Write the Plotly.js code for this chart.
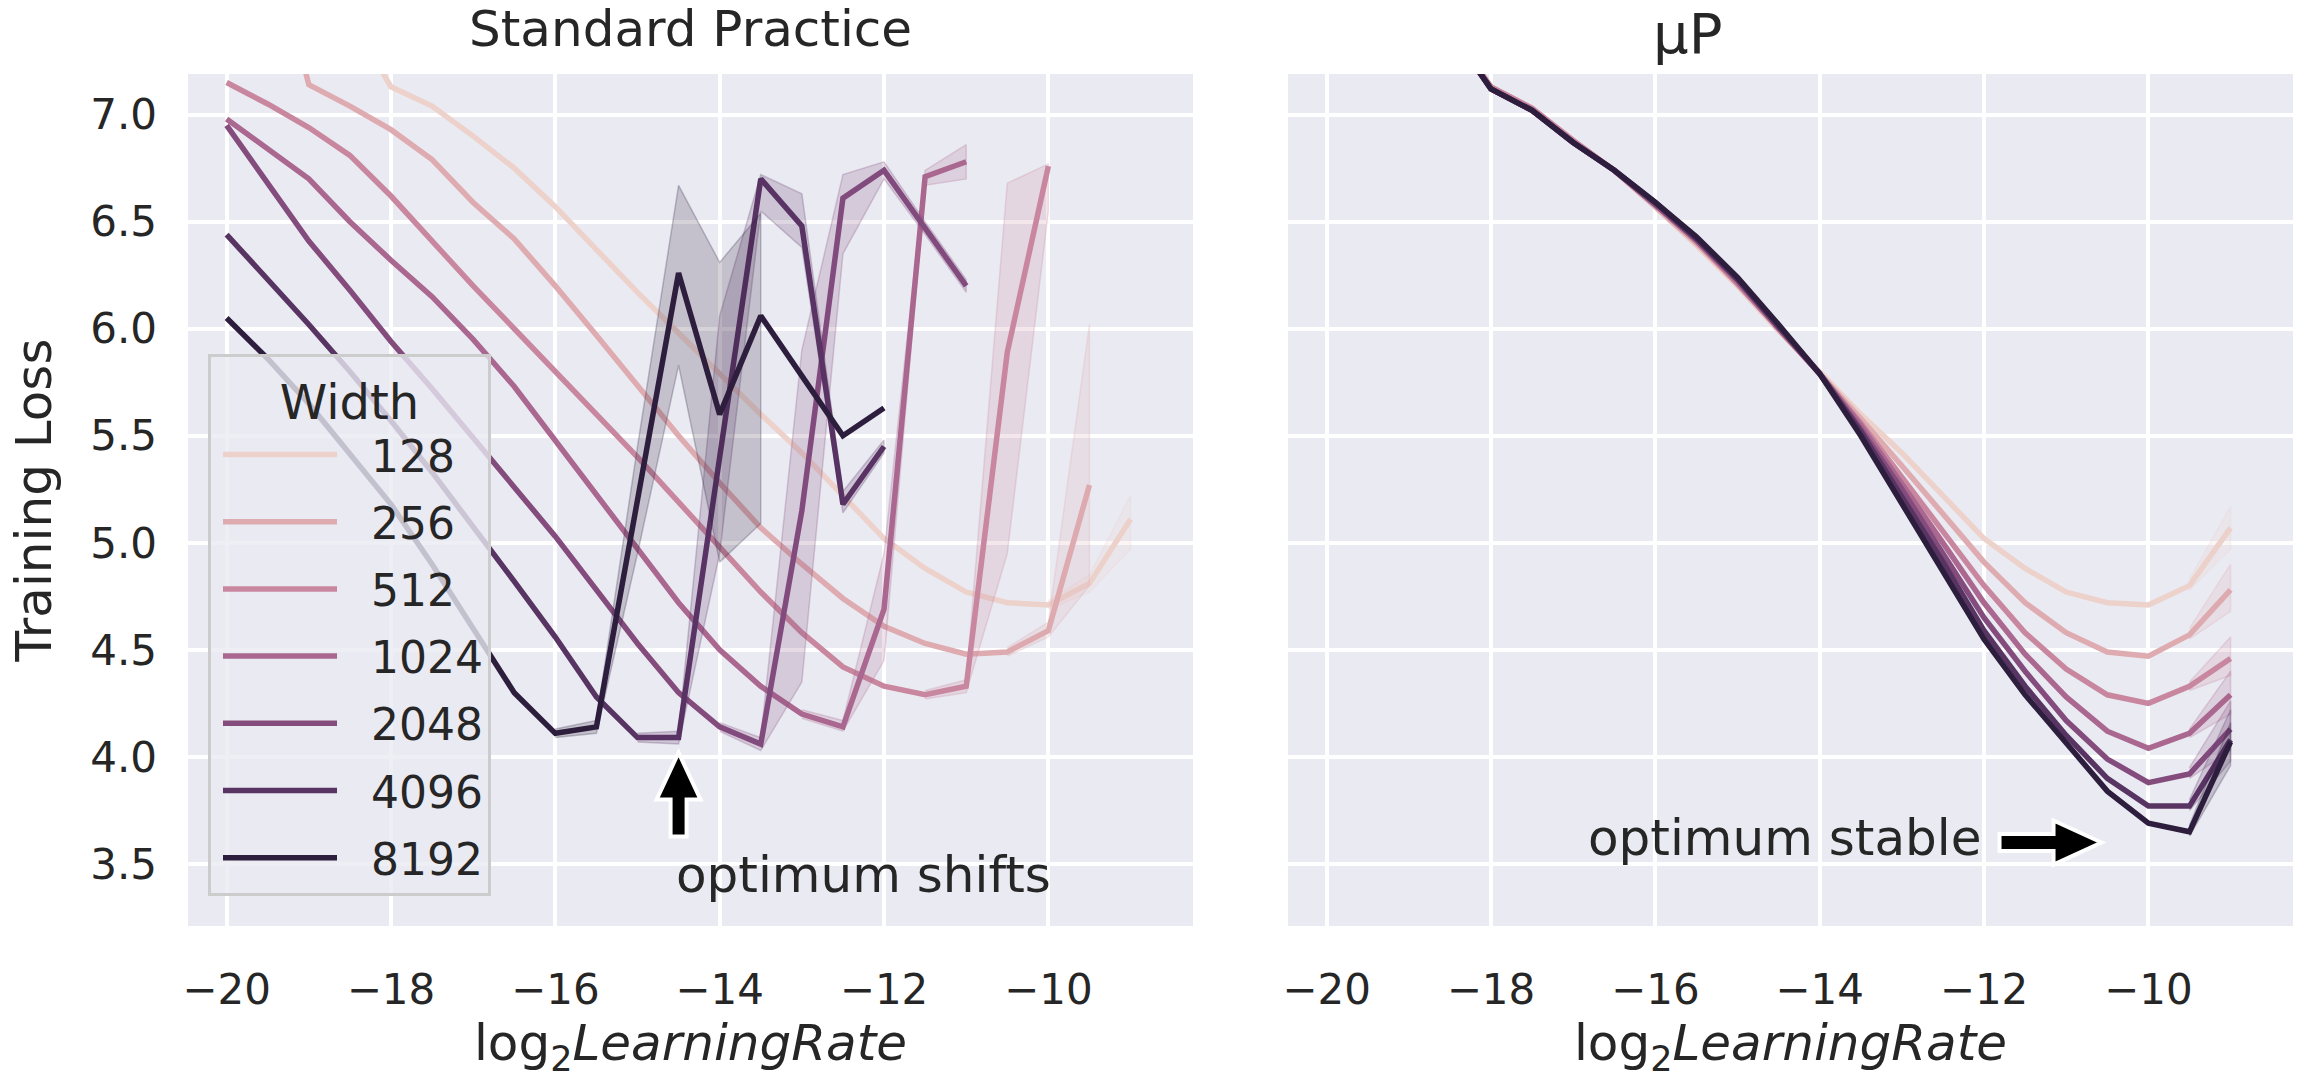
<!DOCTYPE html>
<html>
<head>
<meta charset="utf-8">
<script src="https://cdn.plot.ly/plotly-3.0.1.min.js"></script>
<style>
html,body{margin:0;padding:0;background:#ffffff;}
#chart{width:2305px;height:1088px;}
</style>
</head>
<body>
<div id="chart"></div>
<script>
// ---------------- DATA ----------------
const log2LR = [-20,-19.5,-19,-18.5,-18,-17.5,-17,-16.5,-16,-15.5,-15,-14.5,-14,-13.5,-13,-12.5,-12,-11.5,-11,-10.5,-10,-9.5,-9];
const widthLabels = ['128','256','512','1024','2048','4096','8192'];

// Standard Practice: mean training loss
const sp128  = [null,null,null,7.46,7.13,7.04,6.90,6.75,6.57,6.37,6.17,5.98,5.79,5.60,5.42,5.22,5.02,4.88,4.77,4.72,4.71,4.81,5.11];
const sp256  = [null,7.90,7.14,7.04,6.93,6.79,6.59,6.42,6.20,5.97,5.73,5.50,5.28,5.07,4.90,4.74,4.61,4.53,4.48,4.49,4.59,5.27,null];
const sp512  = [7.15,7.05,6.94,6.81,6.62,6.41,6.20,6.00,5.80,5.60,5.40,5.19,4.98,4.77,4.58,4.42,4.33,4.29,4.33,5.89,6.76,null,null];
const sp1024 = [6.98,6.84,6.70,6.50,6.32,6.15,5.95,5.73,5.48,5.22,4.97,4.72,4.50,4.33,4.20,4.14,4.69,6.71,6.78,null,null,null,null];
const sp2048 = [6.95,6.68,6.41,6.18,5.94,5.72,5.49,5.26,5.03,4.78,4.53,4.30,4.14,4.06,5.15,6.61,6.74,6.47,6.20,null,null,null,null];
const sp4096 = [6.44,6.23,6.02,5.80,5.57,5.33,5.08,4.82,4.56,4.28,4.09,4.09,5.40,6.70,6.48,5.18,5.45,null,null,null,null,null,null];
const sp8192 = [6.05,5.86,5.65,5.42,5.18,4.90,4.60,4.30,4.11,4.14,5.20,6.26,5.60,6.06,5.78,5.50,5.63,null,null,null,null,null,null];

// Standard Practice: confidence band (low / high), null where not visible
const sp128Lo  = [null,null,null,null,null,null,null,null,null,null,null,null,null,null,null,null,null,null,null,null,4.69,4.77,4.97];
const sp128Hi  = [null,null,null,null,null,null,null,null,null,null,null,null,null,null,null,null,null,null,null,null,4.73,4.85,5.22];
const sp256Lo  = [null,null,null,null,null,null,null,null,null,null,null,null,null,null,null,null,null,null,null,4.47,4.56,4.80,null];
const sp256Hi  = [null,null,null,null,null,null,null,null,null,null,null,null,null,null,null,null,null,null,null,4.51,4.63,6.02,null];
const sp512Lo  = [null,null,null,null,null,null,null,null,null,null,null,null,null,null,null,null,null,4.27,4.30,4.95,6.55,null,null];
const sp512Hi  = [null,null,null,null,null,null,null,null,null,null,null,null,null,null,null,null,null,4.31,4.36,6.68,6.77,null,null];
const sp1024Lo = [null,null,null,null,null,null,null,null,null,null,null,null,null,null,4.18,4.12,4.45,6.67,6.70,null,null,null,null];
const sp1024Hi = [null,null,null,null,null,null,null,null,null,null,null,null,null,null,4.22,4.17,4.95,6.74,6.86,null,null,null,null];
const sp2048Lo = [null,null,null,null,null,null,null,null,null,null,null,null,4.12,4.03,4.35,6.35,6.70,6.44,6.17,null,null,null,null];
const sp2048Hi = [null,null,null,null,null,null,null,null,null,null,null,null,4.16,4.09,5.90,6.72,6.78,6.50,6.23,null,null,null,null];
const sp4096Lo = [null,null,null,null,null,null,null,null,null,null,4.07,4.06,4.95,6.55,6.38,5.14,5.42,null,null,null,null,null,null];
const sp4096Hi = [null,null,null,null,null,null,null,null,null,null,4.11,4.12,6.06,6.72,6.63,5.24,5.48,null,null,null,null,null,null];
const sp8192Lo = [null,null,null,null,null,null,null,null,4.09,4.11,4.95,5.83,4.91,5.09,null,null,null,null,null,null,null,null,null];
const sp8192Hi = [null,null,null,null,null,null,null,null,4.13,4.17,5.45,6.67,6.31,6.54,null,null,null,null,null,null,null,null,null];

// muP: mean training loss
const mup128  = [null,null,null,7.40,7.13,7.03,6.88,6.74,6.57,6.39,6.20,5.99,5.80,5.60,5.42,5.22,5.02,4.88,4.77,4.72,4.71,4.80,5.07];
const mup256  = [null,null,null,7.40,7.13,7.03,6.88,6.74,6.57,6.40,6.21,6.00,5.79,5.58,5.36,5.13,4.91,4.72,4.58,4.49,4.47,4.57,4.78];
const mup512  = [null,null,null,7.40,7.13,7.03,6.88,6.74,6.58,6.41,6.21,6.00,5.79,5.56,5.31,5.05,4.80,4.58,4.41,4.29,4.25,4.33,4.46];
const mup1024 = [null,null,null,7.40,7.12,7.02,6.87,6.74,6.58,6.41,6.22,6.00,5.79,5.55,5.28,5.00,4.72,4.48,4.28,4.12,4.04,4.11,4.29];
const mup2048 = [null,null,null,7.40,7.12,7.02,6.87,6.74,6.58,6.42,6.23,6.01,5.79,5.53,5.25,4.95,4.65,4.40,4.17,3.99,3.88,3.92,4.13];
const mup4096 = [null,null,null,7.40,7.12,7.02,6.87,6.74,6.59,6.42,6.23,6.01,5.79,5.52,5.22,4.91,4.59,4.33,4.10,3.90,3.77,3.77,4.08];
const mup8192 = [null,null,null,7.40,7.12,7.02,6.87,6.74,6.59,6.43,6.24,6.02,5.79,5.50,5.18,4.86,4.55,4.29,4.06,3.84,3.69,3.65,4.07];

// muP: confidence band (low / high)
const mup128Lo  = [null,null,null,null,null,null,null,null,null,null,null,null,null,null,null,null,null,null,null,null,null,4.78,4.97];
const mup128Hi  = [null,null,null,null,null,null,null,null,null,null,null,null,null,null,null,null,null,null,null,null,null,4.83,5.17];
const mup256Lo  = [null,null,null,null,null,null,null,null,null,null,null,null,null,null,null,null,null,null,null,null,null,4.55,4.68];
const mup256Hi  = [null,null,null,null,null,null,null,null,null,null,null,null,null,null,null,null,null,null,null,null,null,4.60,4.90];
const mup512Lo  = [null,null,null,null,null,null,null,null,null,null,null,null,null,null,null,null,null,null,null,null,null,4.31,4.38];
const mup512Hi  = [null,null,null,null,null,null,null,null,null,null,null,null,null,null,null,null,null,null,null,null,null,4.35,4.56];
const mup1024Lo = [null,null,null,null,null,null,null,null,null,null,null,null,null,null,null,null,null,null,null,null,null,4.09,4.20];
const mup1024Hi = [null,null,null,null,null,null,null,null,null,null,null,null,null,null,null,null,null,null,null,null,null,4.13,4.40];
const mup2048Lo = [null,null,null,null,null,null,null,null,null,null,null,null,null,null,null,null,null,null,null,null,null,3.90,4.03];
const mup2048Hi = [null,null,null,null,null,null,null,null,null,null,null,null,null,null,null,null,null,null,null,null,null,3.95,4.26];
const mup4096Lo = [null,null,null,null,null,null,null,null,null,null,null,null,null,null,null,null,null,null,null,null,null,3.75,3.98];
const mup4096Hi = [null,null,null,null,null,null,null,null,null,null,null,null,null,null,null,null,null,null,null,null,null,3.80,4.22];
const mup8192Lo = [null,null,null,null,null,null,null,null,null,null,null,null,null,null,null,null,null,null,null,null,null,3.63,3.96];
const mup8192Hi = [null,null,null,null,null,null,null,null,null,null,null,null,null,null,null,null,null,null,null,null,null,3.68,4.16];

const yTickVals = [3.5,4.0,4.5,5.0,5.5,6.0,6.5,7.0];
const xTickVals = [-20,-18,-16,-14,-12,-10];

// annotation anchor points (data coordinates)
const shiftArrowTip  = {x:-14.5, y:4.02};    // left panel, points up
const stableArrowTip = {x:-10.57, y:3.60};   // right panel, points right

// ---------------- STYLE / LAYOUT ----------------
const widthColors = ['#edd1cb','#deabb0','#c8879e','#aa678f','#834c7d','#583463','#2d1e3e'];
const FONT = 'DejaVu Sans, Verdana, sans-serif';
const TXT = '#262626';
const W = 2305, H = 1088;
const plotTop = 74, plotBottom = 926;
const leftDom = [188, 1193], rightDom = [1288, 2293];
const xRange = [-20.47, -8.24], yRange = [3.21, 7.19];

function rgba(hex, a){
  const n = parseInt(hex.slice(1),16);
  return 'rgba('+((n>>16)&255)+','+((n>>8)&255)+','+(n&255)+','+a+')';
}
function bandPolygon(lo, hi){
  const xs=[], ys=[];
  let i=0;
  while(i<log2LR.length){
    if(lo[i]==null || hi[i]==null){ i++; continue; }
    let j=i;
    while(j<log2LR.length && lo[j]!=null && hi[j]!=null) j++;
    for(let k=i;k<j;k++){ xs.push(log2LR[k]); ys.push(hi[k]); }
    for(let k=j-1;k>=i;k--){ xs.push(log2LR[k]); ys.push(lo[k]); }
    xs.push(null); ys.push(null);
    i=j;
  }
  return {xs, ys};
}

const spSeries  = [sp128,sp256,sp512,sp1024,sp2048,sp4096,sp8192];
const spLow     = [sp128Lo,sp256Lo,sp512Lo,sp1024Lo,sp2048Lo,sp4096Lo,sp8192Lo];
const spHigh    = [sp128Hi,sp256Hi,sp512Hi,sp1024Hi,sp2048Hi,sp4096Hi,sp8192Hi];
const mupSeries = [mup128,mup256,mup512,mup1024,mup2048,mup4096,mup8192];
const mupLow    = [mup128Lo,mup256Lo,mup512Lo,mup1024Lo,mup2048Lo,mup4096Lo,mup8192Lo];
const mupHigh   = [mup128Hi,mup256Hi,mup512Hi,mup1024Hi,mup2048Hi,mup4096Hi,mup8192Hi];

const traces = [];
function addPanel(series, lows, highs, xa, ya, legend){
  widthLabels.forEach((w,i)=>{
    const c = widthColors[i];
    traces.push({
      type:'scatter', mode:'lines', x:log2LR, y:series[i],
      xaxis:xa, yaxis:ya, name:w, legendgroup:w, showlegend:legend,
      line:{color:c, width:5.5}, hoverinfo:'x+y+name', connectgaps:false
    });
    const p = bandPolygon(lows[i], highs[i]);
    traces.push({
      type:'scatter', mode:'lines', x:p.xs, y:p.ys, xaxis:xa, yaxis:ya,
      fill:'toself', fillcolor:rgba(c,0.2), line:{color:rgba(c,0.25), width:1.5},
      legendgroup:w, showlegend:false, hoverinfo:'skip'
    });
  });
}
addPanel(spSeries, spLow, spHigh, 'x', 'y', true);
addPanel(mupSeries, mupLow, mupHigh, 'x2', 'y2', false);

// block arrow drawn as a path in data units (pixel sizes converted through the axis scale)
const pxPerX = (leftDom[1]-leftDom[0])/(xRange[1]-xRange[0]);
const pxPerY = (plotBottom-plotTop)/(yRange[1]-yRange[0]);
function blockArrow(tip, dir, headLen, headHalf, shaftHalf, totalLen){
  const pts = [[0,0],[-headLen,headHalf],[-headLen,shaftHalf],[-totalLen,shaftHalf],
               [-totalLen,-shaftHalf],[-headLen,-shaftHalf],[-headLen,-headHalf]];
  const coords = pts.map(([u,v])=>{
    if(dir==='up') return [tip.x + v/pxPerX, tip.y + u/pxPerY];
    return [tip.x + u/pxPerX, tip.y + v/pxPerY];
  });
  return 'M' + coords.map(c=>c[0].toFixed(4)+','+c[1].toFixed(4)).join(' L') + ' Z';
}

const xAxisBase = {
  range:xRange, tickvals:xTickVals, ticktext:xTickVals.map(v=>'\u2212'+Math.abs(v)),
  showgrid:true, gridcolor:'#ffffff', gridwidth:4, zeroline:false, showline:false,
  ticks:'', tickfont:{family:FONT, size:42, color:TXT}, ticklabelstandoff:35,
  title:{text:'log<sub>2</sub><i>LearningRate</i>', font:{family:FONT, size:50, color:TXT}, standoff:8},
  fixedrange:true
};
const yAxisBase = {
  range:yRange, tickvals:yTickVals, ticktext:yTickVals.map(v=>v.toFixed(1)),
  showgrid:true, gridcolor:'#ffffff', gridwidth:4, zeroline:false, showline:false,
  ticks:'', tickfont:{family:FONT, size:42, color:TXT}, ticklabelstandoff:30,
  domain:[(H-plotBottom)/H, (H-plotTop)/H], fixedrange:true
};

const layout = {
  width:W, height:H,
  margin:{l:0,r:0,t:0,b:0, autoexpand:false},
  paper_bgcolor:'#ffffff', plot_bgcolor:'#EAEAF2',
  font:{family:FONT, color:TXT},
  showlegend:true,
  xaxis: Object.assign({}, xAxisBase, {domain:[leftDom[0]/W, leftDom[1]/W], anchor:'y'}),
  yaxis: Object.assign({}, yAxisBase, {anchor:'x',
    title:{text:'Training Loss', font:{family:FONT, size:50, color:TXT}, standoff:22}}),
  xaxis2: Object.assign({}, xAxisBase, {domain:[rightDom[0]/W, rightDom[1]/W], anchor:'y2'}),
  yaxis2: Object.assign({}, yAxisBase, {anchor:'x2', showticklabels:false}),
  legend:{
    x:208/W, y:1-354/H, xanchor:'left', yanchor:'top',
    bgcolor:'rgba(234,234,242,0.8)', bordercolor:'#cccccc', borderwidth:3,
    font:{family:FONT, size:44, color:TXT},
    title:{text:'Width', side:'top center', font:{family:FONT, size:48, color:TXT}},
    itemwidth:150, tracegroupgap:7, traceorder:'grouped', itemclick:false, itemdoubleclick:false
  },
  shapes:[
    {type:'path', xref:'x', yref:'y', path:blockArrow(shiftArrowTip,'up',47,22,8,84),
     fillcolor:'#000000', line:{color:'#ffffff', width:4}, layer:'above'},
    {type:'path', xref:'x2', yref:'y2', path:blockArrow(stableArrowTip,'right',48,22,8.5,102),
     fillcolor:'#000000', line:{color:'#ffffff', width:4}, layer:'above'}
  ],
  annotations:[
    {text:'Standard Practice', xref:'paper', yref:'paper', x:(leftDom[0]+leftDom[1])/2/W, y:1-29/H,
     xanchor:'center', yanchor:'middle', showarrow:false, font:{family:FONT, size:50, color:TXT}},
    {text:'\u00b5P', xref:'paper', yref:'paper', x:1687/W, y:1,
     xanchor:'center', yanchor:'top', showarrow:false, borderpad:0, font:{family:FONT, size:56, color:TXT}},
    {text:'optimum shifts', xref:'x', yref:'y', x:shiftArrowTip.x - 0.05, y:3.45, xanchor:'left', yanchor:'middle',
     showarrow:false, font:{family:FONT, size:50, color:TXT}},
    {text:'optimum stable', xref:'x2', yref:'y2', x:-12.0, y:3.62, xanchor:'right', yanchor:'middle',
     showarrow:false, font:{family:FONT, size:50, color:TXT}}
  ]
};

Plotly.newPlot('chart', traces, layout, {displayModeBar:false, responsive:false}).then(function(gd){
  gd.querySelectorAll('.legend .legendlines path').forEach(function(p){ p.setAttribute('d','M12,0h114'); });
});
</script>
</body>
</html>
